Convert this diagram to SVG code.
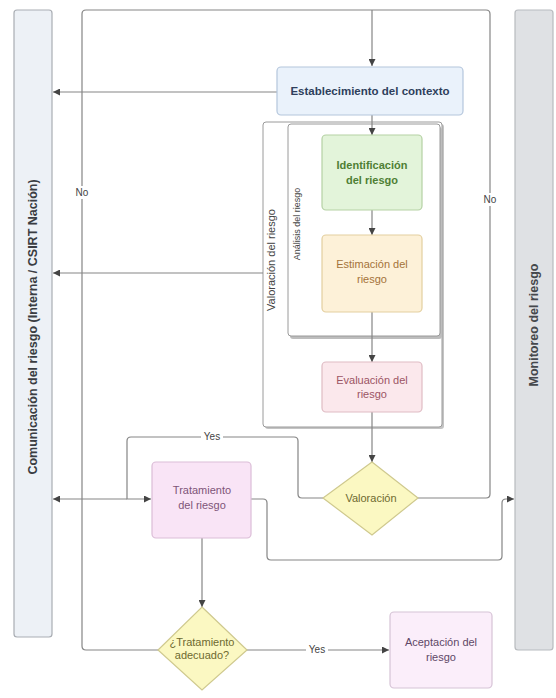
<svg xmlns="http://www.w3.org/2000/svg" width="556" height="698" viewBox="0 0 556 698">
<defs>
  <marker id="ah" viewBox="0 0 8 8" refX="8" refY="4" markerWidth="7" markerHeight="7" markerUnits="userSpaceOnUse" orient="auto">
    <path d="M0,0 L8,4 L0,8 z" fill="#444"/>
  </marker>
</defs>
<style>
  text { font-family: "Liberation Sans", Arial, sans-serif; }
  .ln { fill: none; stroke: #858585; stroke-width: 1.2; stroke-linejoin: round; }
  .arr { marker-end: url(#ah); }
  .lbl { font-size: 10px; fill: #444; text-anchor: middle; }
  .bx { font-size: 11px; text-anchor: middle; }
  .lblbg { fill: #ffffff; }
</style>
<rect width="556" height="698" fill="#ffffff"/>

<g id="comunicacion">
  <rect x="14" y="10" width="38" height="627" rx="3" fill="#edf1f6" stroke="#a9adb3" stroke-width="1.2"/>
  <text transform="translate(37,327) rotate(-90)" font-size="12.5" font-weight="bold" fill="#3a3d42" text-anchor="middle">Comunicación del riesgo (Interna / CSIRT Nación)</text>
</g>
<g id="monitoreo">
  <rect x="515" y="10" width="38" height="640" rx="3" fill="#dfe1e4" stroke="#b8bbbf" stroke-width="1.2"/>
  <text transform="translate(538,325) rotate(-90)" font-size="12.5" font-weight="bold" fill="#45484c" text-anchor="middle">Monitoreo del riesgo</text>
</g>

<g id="valoracion-container">
  <rect x="265" y="124" width="179" height="305" rx="3" fill="#c4c4c4"/>
  <rect x="263" y="122" width="179" height="305" rx="3" fill="#ffffff" stroke="#9a9a9a" stroke-width="1"/>
  <text transform="translate(275,260) rotate(-90)" font-size="11" fill="#444" text-anchor="middle">Valoración del riesgo</text>
</g>
<g id="analisis-container">
  <rect x="290" y="127" width="152" height="212" rx="3" fill="#bdbdbd"/>
  <rect x="288" y="124" width="152" height="212" rx="3" fill="#ffffff" stroke="#9a9a9a" stroke-width="1"/>
  <text transform="translate(300,224) rotate(-90)" font-size="9" fill="#444" text-anchor="middle">Análisis del riesgo</text>
</g>

<g id="connectors">
  <path class="ln" d="M158,650 H86 Q82,650 82,646 V14 Q82,10 86,10 H372"/>
  <path class="ln" d="M418,498 H486 Q490,498 490,494 V14 Q490,10 486,10 H372"/>
  <path class="ln arr" d="M372,10 V66"/>
  <path class="ln arr" d="M277,92 H53"/>
  <path class="ln arr" d="M263,273 H53"/>
  <path class="ln arr" d="M372,115 V135"/>
  <path class="ln arr" d="M372,210 V235"/>
  <path class="ln arr" d="M372,312 V362"/>
  <path class="ln arr" d="M372,412 V462"/>
  <path class="ln arr" d="M323,498 H302 Q298,498 298,494 V441 Q298,437 294,437 H131 Q127,437 127,441 V499 H151"/>
  <path class="ln arr" d="M127,499 H53"/>
  <path class="ln arr" d="M251,499 H263 Q267,499 267,503 V556 Q267,560 271,560 H498 Q502,560 502,556 V503 Q502,499 506,499 H514"/>
  <path class="ln arr" d="M202,538 V607"/>
  <path class="ln arr" d="M247,650 H389"/>
  <rect class="lblbg" x="74" y="186" width="16" height="13"/>
  <text class="lbl" x="82" y="196">No</text>
  <rect class="lblbg" x="482" y="193" width="16" height="13"/>
  <text class="lbl" x="490" y="203">No</text>
  <rect class="lblbg" x="201" y="431" width="22" height="12"/>
  <text class="lbl" x="212" y="440">Yes</text>
  <rect class="lblbg" x="306" y="644" width="22" height="12"/>
  <text class="lbl" x="317" y="653">Yes</text>
</g>

<g id="establecimiento">
  <rect x="277" y="67" width="186" height="48" rx="4" fill="#eaf2fb" stroke="#b4c6dc" stroke-width="1.2"/>
  <text x="370" y="95" font-size="11.5" font-weight="bold" fill="#2e3f5c" text-anchor="middle">Establecimiento del contexto</text>
</g>
<g id="identificacion">
  <rect x="322" y="135" width="100" height="75" rx="4" fill="#e3f4da" stroke="#b5d1a4" stroke-width="1.2"/>
  <text class="bx" x="372" y="169" font-weight="bold" fill="#4f7f34">Identificación</text>
  <text class="bx" x="372" y="184" font-weight="bold" fill="#4f7f34">del riesgo</text>
</g>
<g id="estimacion">
  <rect x="322" y="235" width="100" height="77" rx="4" fill="#fdf1d8" stroke="#e3cf9f" stroke-width="1.2"/>
  <text class="bx" x="372" y="268" fill="#a4733a">Estimación del</text>
  <text class="bx" x="372" y="283" fill="#a4733a">riesgo</text>
</g>
<g id="evaluacion">
  <rect x="322" y="362" width="100" height="50" rx="4" fill="#fbe8ec" stroke="#dfbcc4" stroke-width="1.2"/>
  <text class="bx" x="372" y="384" fill="#9c5564">Evaluación del</text>
  <text class="bx" x="372" y="398" fill="#9c5564">riesgo</text>
</g>
<g id="valoracion">
  <polygon points="372,462 418,498 372,535 323,498" fill="#fbf8c2" stroke="#cfc98e" stroke-width="1.2"/>
  <text class="bx" x="371" y="502" fill="#6e6a30">Valoración</text>
</g>
<g id="tratamiento">
  <rect x="152" y="462" width="99" height="76" rx="4" fill="#f9e4f6" stroke="#dbbdd7" stroke-width="1.2"/>
  <text class="bx" x="202" y="494" fill="#7e5478">Tratamiento</text>
  <text class="bx" x="202" y="509" fill="#7e5478">del riesgo</text>
</g>
<g id="tratamiento-adecuado">
  <polygon points="202,607 247,650 202,690 158,650" fill="#fbf8c2" stroke="#cfc98e" stroke-width="1.2"/>
  <text class="bx" x="202" y="646" font-size="10" fill="#6e6a30">¿Tratamiento</text>
  <text class="bx" x="202" y="659" font-size="10" fill="#6e6a30">adecuado?</text>
</g>
<g id="aceptacion">
  <rect x="390" y="612" width="102" height="76" rx="4" fill="#fbeefa" stroke="#d6c3d6" stroke-width="1.2"/>
  <text class="bx" x="441" y="646" font-size="10.5" fill="#5e4866">Aceptación del</text>
  <text class="bx" x="441" y="661" font-size="10.5" fill="#5e4866">riesgo</text>
</g>
</svg>
